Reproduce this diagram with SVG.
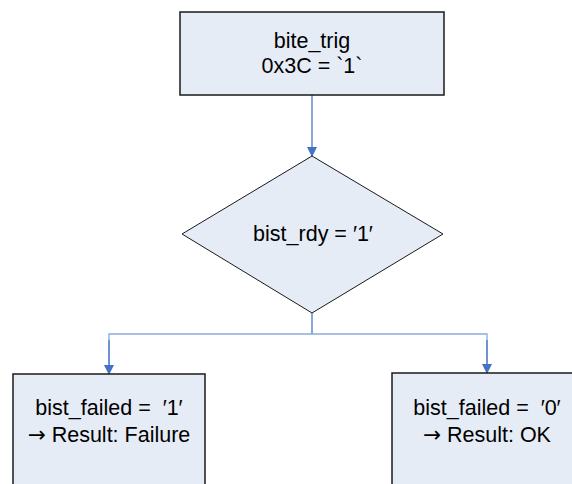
<svg xmlns="http://www.w3.org/2000/svg" width="572" height="484" viewBox="0 0 572 484">
<defs>
<style>
.box{fill:#E6ECF6;stroke:#1a1a1a;stroke-width:1.5}
.t{font-family:"Liberation Sans",Arial,sans-serif;font-size:21.5px;fill:#000;text-anchor:middle}
.ar{font-family:"DejaVu Sans",sans-serif}
.c{fill:none;stroke:#4A78C4;stroke-width:1.3}
</style>
<marker id="ah" markerWidth="10" markerHeight="10" refX="9" refY="5" orient="auto" markerUnits="userSpaceOnUse">
<path d="M0,0 L10,5 L0,10 z" fill="#4472C4"/>
</marker>
</defs>
<g id="connectors">
<line class="c" x1="312" y1="95" x2="312" y2="156" marker-end="url(#ah)"/>
<line class="c" x1="312" y1="313" x2="312" y2="334"/>
<polyline class="c" points="109,374 109,334 487,334 487,373" style="stroke:#8EAADB"/>
<line class="c" x1="109" y1="340" x2="109" y2="374" marker-end="url(#ah)"/>
<line class="c" x1="487" y1="340" x2="487" y2="373" marker-end="url(#ah)"/>
</g>
<g id="bite_trig">
<rect class="box" x="180" y="12" width="264" height="83"/>
<text class="t" x="312" y="48">bite_trig</text>
<text class="t" x="312" y="73">0x3C = `1`</text>
</g>
<g id="bist_rdy">
<polygon class="box" points="312,156 443,234 312,313 182,234" style="stroke-width:1"/>
<text class="t" x="313" y="241">bist_rdy = ′1′</text>
</g>
<g id="fail">
<rect class="box" x="13" y="374" width="192" height="130"/>
<text class="t" x="109" y="415" xml:space="preserve">bist_failed =  ′1′</text>
<text class="t" x="109" y="442"><tspan class="ar">→</tspan> Result: Failure</text>
</g>
<g id="ok">
<rect class="box" x="392" y="373" width="200" height="130"/>
<text class="t" x="487" y="415" xml:space="preserve">bist_failed =  ′0′</text>
<text class="t" x="487" y="442"><tspan class="ar">→</tspan> Result: OK</text>
</g>
</svg>
